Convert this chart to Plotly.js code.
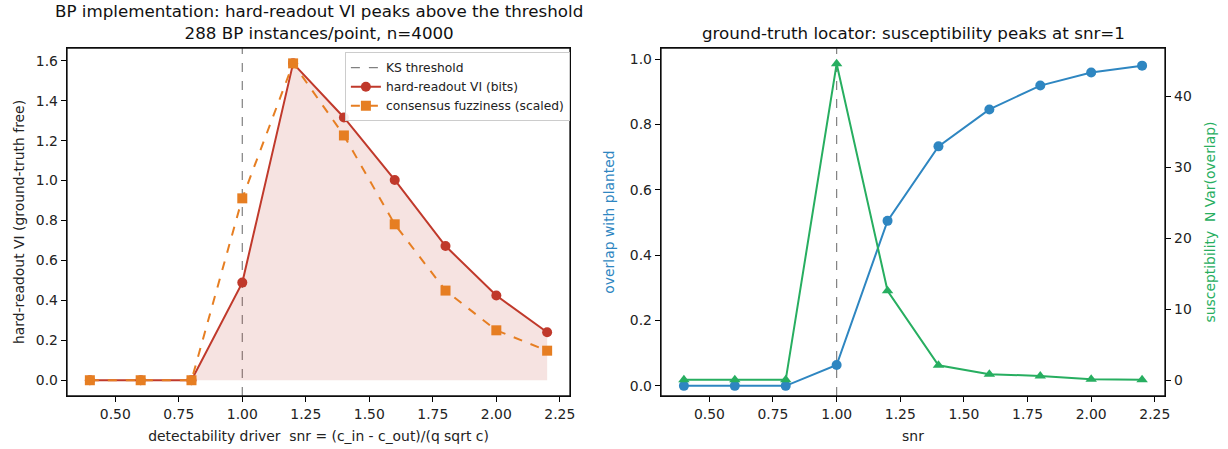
<!DOCTYPE html>
<html>
<head>
<meta charset="utf-8">
<script src="https://cdn.plot.ly/plotly-3.0.1.min.js"></script>
<style>html,body{margin:0;padding:0;background:#fff;}#chart{width:1228px;height:449px;}</style>
</head>
<body>
<div id="chart"></div>
<script>
// ---- data ----
const snr = [0.4, 0.6, 0.8, 1.0, 1.2, 1.4, 1.6, 1.8, 2.0, 2.2];
const hardReadoutVI = [0, 0, 0, 0.489, 1.587, 1.316, 1.003, 0.672, 0.424, 0.240];
const consensusFuzziness = [0, 0, 0, 0.911, 1.587, 1.226, 0.781, 0.449, 0.250, 0.148];
const overlapPlanted = [0, 0, 0, 0.064, 0.505, 0.733, 0.846, 0.919, 0.959, 0.980];
const susceptibility = [0.05, 0.05, 0.05, 44.6, 12.6, 2.1, 0.85, 0.6, 0.12, 0.05];
const ksThreshold = 1.0;

const RED = '#c0392b', ORANGE = '#e67e22', BLUE = '#2e86c1', GREEN = '#27ae60';
const FONT = 'DejaVu Sans, sans-serif';

const traces = [
  { x: snr, y: hardReadoutVI, xaxis: 'x', yaxis: 'y', type: 'scatter', mode: 'none',
    fill: 'tozeroy', fillcolor: 'rgba(192,57,43,0.14)', showlegend: false, hoverinfo: 'skip' },
  { x: [null], y: [null], xaxis: 'x', yaxis: 'y', type: 'scatter', mode: 'lines',
    name: 'KS threshold', line: { color: 'gray', width: 1.2, dash: 'dash' } },
  { x: snr, y: hardReadoutVI, xaxis: 'x', yaxis: 'y', type: 'scatter', mode: 'lines+markers',
    name: 'hard-readout VI (bits)', line: { color: RED, width: 2 },
    marker: { color: RED, size: 10, symbol: 'circle' } },
  { x: snr, y: consensusFuzziness, xaxis: 'x', yaxis: 'y', type: 'scatter', mode: 'lines+markers',
    name: 'consensus fuzziness (scaled)', line: { color: ORANGE, width: 2, dash: 'dash' },
    marker: { color: ORANGE, size: 10, symbol: 'square' } },
  { x: snr, y: overlapPlanted, xaxis: 'x2', yaxis: 'y3', type: 'scatter', mode: 'lines+markers',
    showlegend: false, line: { color: BLUE, width: 2 }, marker: { color: BLUE, size: 10 } },
  { x: snr, y: susceptibility, xaxis: 'x2', yaxis: 'y4', type: 'scatter', mode: 'lines+markers',
    showlegend: false, line: { color: GREEN, width: 2 },
    marker: { color: GREEN, size: 10, symbol: 'triangle-up' } }
];

const axBase = {
  showgrid: false, zeroline: false, showline: true, linecolor: '#000000', linewidth: 1.3,
  ticks: 'outside', ticklen: 5, tickcolor: '#000000', tickwidth: 1, layer: 'above traces',
  tickfont: { family: FONT, size: 13.9, color: '#222' }
};

const frame = (xr, yr) => ({ type: 'rect', xref: xr + ' domain', yref: yr + ' domain', x0: 0, x1: 1, y0: 0, y1: 1,
  line: { color: '#111111', width: 1.3 }, fillcolor: 'rgba(0,0,0,0)', layer: 'above' });

const layout = {
  width: 1228, height: 449,
  margin: { l: 67, r: 63, t: 48, b: 53 },
  paper_bgcolor: 'white', plot_bgcolor: 'white',
  font: { family: FONT, color: '#222' },
  showlegend: true,
  legend: { x: 0.458, y: 0.988, xanchor: 'right', yanchor: 'top', bgcolor: 'rgba(255,255,255,0.9)',
            bordercolor: '#cccccc', borderwidth: 1, tracegroupgap: 0, itemwidth: 30,
            font: { family: FONT, size: 12.3, color: '#222' } },
  xaxis: Object.assign({}, axBase, { domain: [0, 0.45811], range: [0.31, 2.29], tick0: 0.5, dtick: 0.25,
    tickformat: '.2f', mirror: true, anchor: 'y',
    title: { text: 'detectability driver\u00a0 snr = (c_in - c_out)/(q sqrt c)', font: { family: FONT, size: 13.9, color: '#222' }, standoff: 10 } }),
  yaxis: Object.assign({}, axBase, { domain: [0, 1], range: [-0.079, 1.664], dtick: 0.2, tickformat: '.1f',
    mirror: true, anchor: 'x',
    title: { text: 'hard-readout VI (ground-truth free)', font: { family: FONT, size: 13.9, color: '#222' }, standoff: 8 } }),
  xaxis2: Object.assign({}, axBase, { domain: [0.54098, 1], range: [0.31, 2.29], tick0: 0.5, dtick: 0.25,
    tickformat: '.2f', mirror: true, anchor: 'y3',
    title: { text: 'snr', font: { family: FONT, size: 13.9, color: '#222' }, standoff: 10 } }),
  yaxis3: Object.assign({}, axBase, { domain: [0, 1], range: [-0.031, 1.034], dtick: 0.2, tickformat: '.1f',
    anchor: 'x2', side: 'left',
    title: { text: 'overlap with planted', font: { family: FONT, size: 13.9, color: BLUE }, standoff: 12 } }),
  yaxis4: Object.assign({}, axBase, { range: [-2.23, 46.83], dtick: 10, overlaying: 'y3', anchor: 'x2',
    side: 'right',
    title: { text: 'susceptibility\u00a0 N Var(overlap)', font: { family: FONT, size: 13.9, color: GREEN }, standoff: 14 } }),
  shapes: [
    { type: 'line', xref: 'x', yref: 'y domain', x0: ksThreshold, x1: ksThreshold, y0: 0, y1: 1,
      line: { color: 'gray', width: 1.2, dash: 'dash' }, layer: 'below' },
    { type: 'line', xref: 'x2', yref: 'y3 domain', x0: ksThreshold, x1: ksThreshold, y0: 0, y1: 1,
      line: { color: 'gray', width: 1.2, dash: 'dash' }, layer: 'below' },
    frame('x', 'y'),
    frame('x2', 'y3')
  ],
  annotations: [
    { text: 'BP implementation: hard-readout VI peaks above the threshold<br>288 BP instances/point, n=4000',
      xref: 'paper', yref: 'paper', x: 0.2291, y: 1, xanchor: 'center', yanchor: 'bottom', yshift: 3,
      showarrow: false, font: { family: FONT, size: 16.7, color: '#111' } },
    { text: 'ground-truth locator: susceptibility peaks at snr=1',
      xref: 'paper', yref: 'paper', x: 0.7705, y: 1, xanchor: 'center', yanchor: 'bottom', yshift: 3,
      showarrow: false, font: { family: FONT, size: 16.7, color: '#111' } }
  ]
};

Plotly.newPlot('chart', traces, layout, { displayModeBar: false, staticPlot: true });
</script>
</body>
</html>
